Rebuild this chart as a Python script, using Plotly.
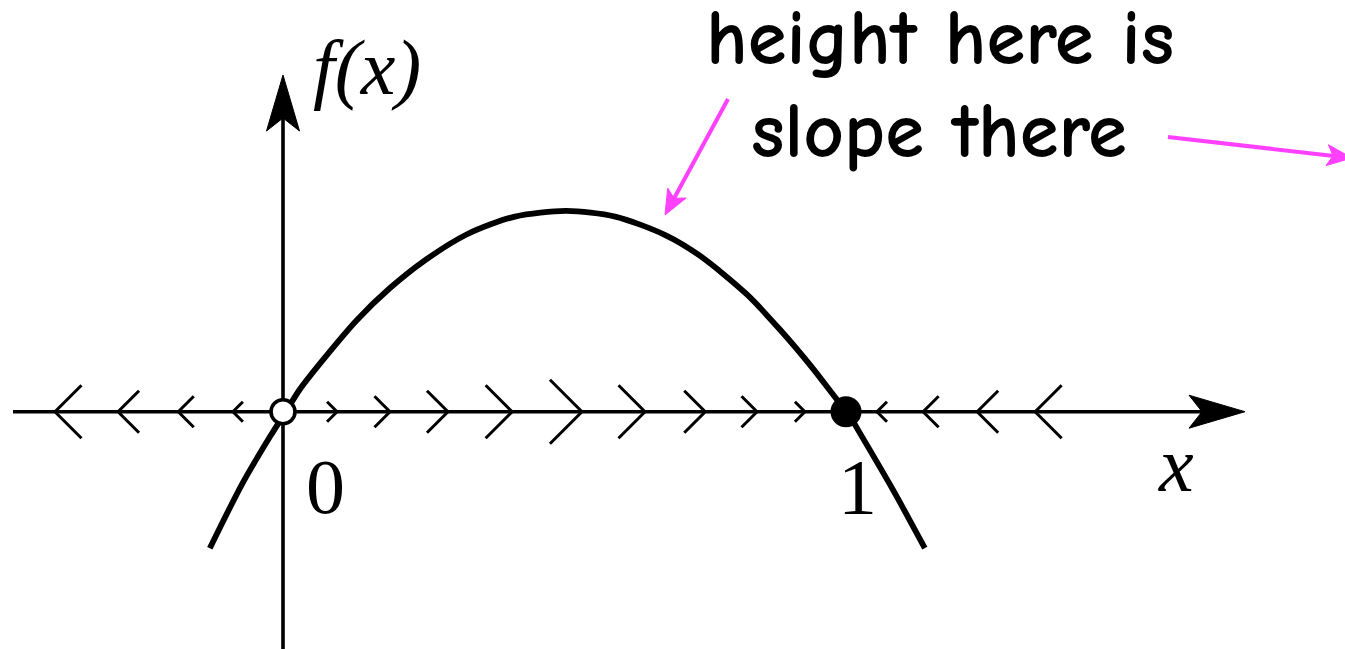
import plotly.graph_objects as go

# ---------------- data ----------------
curve_x = [-0.130, -0.071, -0.023, 0.005, 0.030, 0.075, 0.131, 0.190, 0.249, 0.327,
           0.412, 0.503, 0.590, 0.679, 0.741, 0.824, 0.883, 0.941, 0.984, 1.002,
           1.025, 1.084, 1.140]
curve_y = [-0.170, -0.088, -0.031, 0.000, 0.028, 0.068, 0.114, 0.154, 0.187, 0.221,
           0.243, 0.250, 0.243, 0.220, 0.194, 0.146, 0.102, 0.054, 0.015, 0.000,
           -0.027, -0.098, -0.170]

fixed_x = [0.0, 1.0]
fixed_y = [0.0, 0.0]

chevron_x = [-0.405, -0.293, -0.186, -0.089,
             0.096, 0.190, 0.293, 0.407, 0.531, 0.643, 0.750, 0.842, 0.927,
             1.055, 1.137, 1.233, 1.336]
chevron_dir = [-1, -1, -1, -1,
               1, 1, 1, 1, 1, 1, 1, 1, 1,
               -1, -1, -1, -1]
chevron_level = [4, 3, 2, 1,
                 1, 2, 3, 4, 5, 4, 3, 2, 1,
                 1, 2, 3, 4]

tick_labels = ["0", "1"]
x_label = "x"
y_label = "f(x)"
note_lines = ["height here is", "slope there"]

# ---------------- geometry / styles ----------------
W, H = 1345, 649
X_RANGE = [-0.50266, 1.88633]
Y_RANGE = [-0.29552, 0.51270]
SX = W / (X_RANGE[1] - X_RANGE[0])   # px per x-unit
SY = H / (Y_RANGE[1] - Y_RANGE[0])   # px per y-unit


def px2x(px):
    return X_RANGE[0] + px / SX


def py2y(py):
    return Y_RANGE[1] - py / SY


def arrow_head(tip_px, tip_py, ux, uy, length, half, notch):
    """filled arrow head polygon, (ux,uy) = unit direction in pixel space"""
    nx, ny = -uy, ux
    bx, by = tip_px - ux * length, tip_py - uy * length
    mx, my = tip_px - ux * (length - notch), tip_py - uy * (length - notch)
    pts = [(tip_px, tip_py), (bx + nx * half, by + ny * half), (mx, my),
           (bx - nx * half, by - ny * half), (tip_px, tip_py)]
    return [px2x(p[0]) for p in pts], [py2y(p[1]) for p in pts]


BLACK = "#000000"
MAGENTA = "#ff40ff"
AXIS_W = 3.6
CURVE_W = 5.8
CHEV_W = 3.0
ARR_LEN, ARR_HALF, ARR_NOTCH = 56, 16.5, 13

x0_px = (0 - X_RANGE[0]) * SX
y0_py = (Y_RANGE[1] - 0) * SY

fig = go.Figure()

# x axis line + head
x_tip_px = 1245
fig.add_trace(go.Scatter(x=[px2x(13), px2x(x_tip_px - ARR_LEN + ARR_NOTCH + 2)], y=[0, 0],
                         mode="lines", line=dict(color=BLACK, width=AXIS_W),
                         hoverinfo="skip", showlegend=False))
hx, hy = arrow_head(x_tip_px, y0_py, 1, 0, ARR_LEN, ARR_HALF, ARR_NOTCH)
fig.add_trace(go.Scatter(x=hx, y=hy, mode="lines", fill="toself", fillcolor=BLACK,
                         line=dict(color=BLACK, width=1), hoverinfo="skip", showlegend=False))

# y axis line + head
y_tip_py = 75
fig.add_trace(go.Scatter(x=[0, 0], y=[Y_RANGE[0] - 0.05, py2y(y_tip_py + ARR_LEN - ARR_NOTCH - 2)],
                         mode="lines", line=dict(color=BLACK, width=AXIS_W),
                         hoverinfo="skip", showlegend=False))
hx, hy = arrow_head(x0_px, y_tip_py, 0, -1, ARR_LEN, ARR_HALF, ARR_NOTCH)
fig.add_trace(go.Scatter(x=hx, y=hy, mode="lines", fill="toself", fillcolor=BLACK,
                         line=dict(color=BLACK, width=1), hoverinfo="skip", showlegend=False))

# chevrons (flow arrows on the line)
cx, cy = [], []
for xv, d, lv in zip(chevron_x, chevron_dir, chevron_level):
    h = 10 + (lv - 1) * 5.5          # half size in px
    arm_x = xv - d * h / SX
    cx += [arm_x, xv, arm_x, None]
    cy += [h / SY, 0, -h / SY, None]
fig.add_trace(go.Scatter(x=cx, y=cy, mode="lines", line=dict(color=BLACK, width=CHEV_W),
                         hoverinfo="skip", showlegend=False))

# curve f(x)
fig.add_trace(go.Scatter(x=curve_x, y=curve_y, mode="lines",
                         line=dict(color=BLACK, width=CURVE_W, shape="spline", smoothing=0.8),
                         hoverinfo="skip", showlegend=False))

# fixed points: unstable (open) at 0, stable (filled) at 1
fig.add_trace(go.Scatter(x=[fixed_x[0]], y=[fixed_y[0]], mode="markers",
                         marker=dict(size=24, color="white", line=dict(color=BLACK, width=3.6)),
                         hoverinfo="skip", showlegend=False))
fig.add_trace(go.Scatter(x=[fixed_x[1]], y=[fixed_y[1]], mode="markers",
                         marker=dict(size=31, color=BLACK, line=dict(width=0)),
                         hoverinfo="skip", showlegend=False))

# magenta pointer arrows
def magenta_arrow(x1, y1, x2, y2):
    dx, dy = x2 - x1, y2 - y1
    L = (dx * dx + dy * dy) ** 0.5
    ux, uy = dx / L, dy / L
    fig.add_trace(go.Scatter(x=[px2x(x1), px2x(x2 - ux * 16)], y=[py2y(y1), py2y(y2 - uy * 16)],
                             mode="lines", line=dict(color=MAGENTA, width=4),
                             hoverinfo="skip", showlegend=False))
    ax_, ay_ = arrow_head(x2, y2, ux, uy, 25, 10.5, 6)
    fig.add_trace(go.Scatter(x=ax_, y=ay_, mode="lines", fill="toself", fillcolor=MAGENTA,
                             line=dict(color=MAGENTA, width=1), hoverinfo="skip", showlegend=False))


magenta_arrow(728, 99, 665, 215)
magenta_arrow(1168, 137, 1352, 158)

SERIF = "Liberation Serif, Times New Roman, serif"
HAND = "Comic Sans MS, Comic Neue, Noto Sans, sans-serif"
annots = [
    dict(x=px2x(367), y=py2y(67), text="<i>" + y_label + "</i>", font=dict(family=SERIF, size=78)),
    dict(x=px2x(325), y=py2y(486), text=tick_labels[0], font=dict(family=SERIF, size=78)),
    dict(x=px2x(857), y=py2y(486), text=tick_labels[1], font=dict(family=SERIF, size=78)),
    dict(x=px2x(1176), y=py2y(464), text="<i>" + x_label + "</i>", font=dict(family=SERIF, size=78)),
    dict(x=px2x(940), y=py2y(38), text=note_lines[0], font=dict(family=HAND, size=79, weight="bold")),
    dict(x=px2x(939), y=py2y(131), text=note_lines[1], font=dict(family=HAND, size=79, weight="bold")),
]
for a in annots:
    a.update(xref="x", yref="y", showarrow=False, xanchor="center", yanchor="middle")
    a["font"]["color"] = BLACK

fig.update_layout(
    width=W, height=H,
    margin=dict(l=0, r=0, t=0, b=0, pad=0),
    paper_bgcolor="white", plot_bgcolor="white",
    xaxis=dict(range=X_RANGE, visible=False, fixedrange=True),
    yaxis=dict(range=Y_RANGE, visible=False, fixedrange=True),
    annotations=annots,
    showlegend=False,
)

fig.write_html("out.html", config={"displayModeBar": False},
               post_script="document.body.style.margin='0';")
